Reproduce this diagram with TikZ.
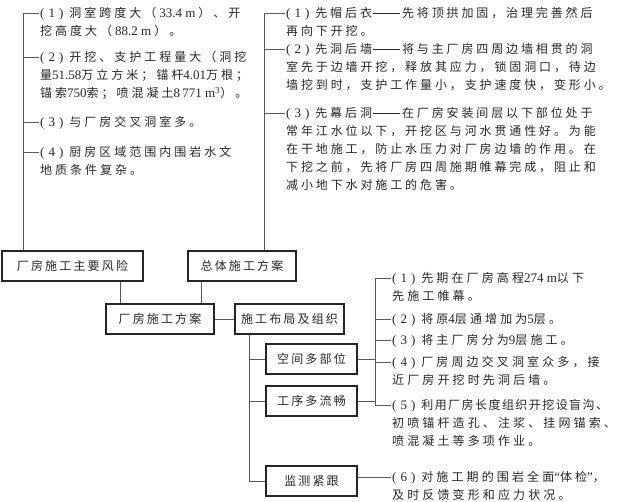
\documentclass[tikz,border=0pt]{standalone}
\usepackage{fontspec}
\newfontfamily\cjk[LetterSpace=18]{Noto Sans CJK SC}
\newfontfamily\cjkt[LetterSpace=12]{Noto Sans CJK SC}
\newfontfamily\cjkl[LetterSpace=25]{Noto Sans CJK SC}
\newfontfamily\cjkb[LetterSpace=26]{Noto Sans CJK SC}
\newfontfamily\cjkr[LetterSpace=24]{Noto Sans CJK SC}
\newfontfamily\tmfont{Liberation Serif}
\newcommand\tm[1]{{\tmfont\fontsize{13}{18}\selectfont #1}}
\newcommand\itemno[1]{\tm{(\hspace{4pt}#1\hspace{4pt})}\hspace{6pt}}
\newcommand\lines[1]{\begin{tabular}[t]{@{}l@{}}#1\end{tabular}}
\newcommand\dash{\hspace{1pt}\rule[4pt]{27pt}{0.6pt}\hspace{2pt}}
\tikzset{
  box/.style={draw=black!85, line width=1.4pt, minimum height=30pt, inner sep=0pt,
    font=\cjk\fontsize{12}{14}\selectfont, text=black!85},
  txt/.style={inner sep=0pt, anchor=base west, text=black!85},
  txtl/.style={txt, font=\cjkl\fontsize{12}{18}\selectfont},
  txtb/.style={txt, font=\cjkb\fontsize{12}{18}\selectfont},
  txtr/.style={txt, font=\cjkr\fontsize{12}{18}\selectfont},
  ln/.style={draw=black!65, line width=0.8pt},
}
\begin{document}
\begin{tikzpicture}[x=1pt,y=-1pt]
\useasboundingbox (0,0) rectangle (617,501);
% boxes
\node[box, minimum width=141pt] (B1) at (72.5,266) {厂房施工主要风险};
\node[box, minimum width=108pt] (B2) at (242,266) {总体施工方案};
\node[box, minimum width=108pt] (B3) at (160,319) {厂房施工方案};
\node[box, minimum width=109pt] (B4) at (289.5,319) {施工布局及组织};
\node[box, minimum width=91pt] (B5) at (311.5,359) {空间多部位};
\node[box, minimum width=91pt] (B6) at (311.5,401) {工序多流畅};
\node[box, minimum width=91pt] (B7) at (311.5,481) {监测紧跟};
% left texts
\node[txtl] (L1) at (40,17.6) {\lines{\itemno{1}洞室跨度大（\hspace{3pt}\tm{33.4 m}\hspace{3pt}）、开\\挖高度大（\hspace{3pt}\tm{88.2 m}\hspace{3pt}）。}};
\node[txtl] (L2) at (40,61.6) {\lines{\itemno{2}开挖、支护工程量大（洞挖\\量\tm{51.58}万立方米；锚杆\tm{4.01}万根；\\锚索\tm{750}索；喷混凝土\tm{8\,771 m\textsuperscript{3}}）。}};
\node[txtl] (L3) at (40,126.6) {\lines{\itemno{3}与厂房交叉洞室多。}};
\node[txtl] (L4) at (40,156.6) {\lines{\itemno{4}厨房区域范围内围岩水文\\地质条件复杂。}};
% right-top texts
\node[txtr] (R1) at (286,17.6) {\lines{\itemno{1}先帽后衣\dash 先将顶拱加固，治理完善然后\\再向下开挖。}};
\node[txtr] (R2) at (286,53.6) {\lines{\itemno{2}先洞后墙\dash 将与主厂房四周边墙相贯的洞\\室先于边墙开挖，释放其应力，锁固洞口，待边\\墙挖到时，支护工作量小，支护速度快，变形小。}};
\node[txtr] (R3) at (286,117.6) {\lines{\itemno{3}先幕后洞\dash 在厂房安装间层以下部位处于\\常年江水位以下，开挖区与河水贯通性好。为能\\在干地施工，防止水压力对厂房边墙的作用。在\\下挖之前，先将厂房四周施期帷幕完成，阻止和\\减小地下水对施工的危害。}};
% bottom-right texts
\node[txtb] (S1) at (392,282.6) {\lines{\itemno{1}先期在厂房高程\tm{274 m}以下\\先施工帷幕。}};
\node[txtb] (S2) at (392,323.6) {\lines{\itemno{2}将原\tm{4}层通增加为\tm{5}层。}};
\node[txtb] (S3) at (392,344.6) {\lines{\itemno{3}将主厂房分为\tm{9}层施工。}};
\node[txtb] (S4) at (392,366.6) {\lines{\itemno{4}厂房周边交叉洞室众多，接\\近厂房开挖时先洞后墙。}};
\node[txtb] (S5) at (392,409.6) {\lines{\itemno{5}{\cjkt 利用厂房长度组织开挖设盲沟、}\\初喷锚杆造孔、注浆、挂网锚索、\\喷混凝土等多项作业。}};
\node[txtb] (S6) at (392,481.6) {\lines{\itemno{6}对施工期的围岩全面\tm{“}体检\tm{”}，\\及时反馈变形和应力状况。}};
% tick coordinates
\foreach \n in {L1,L2,L3,L4,R1,R2,R3,S1,S2,S3,S4,S5,S6}{
  \coordinate (t\n) at ([yshift=4.6pt,xshift=-1pt]\n.base west);
}
\coordinate (lt) at (23,0);
\coordinate (rt) at (264,0);
\coordinate (st) at (375,0);
\coordinate (mt) at (249,0);
% left trunk
\draw[ln] (B1.north -| lt) -- (lt |- tL1) -- (tL1);
\foreach \n in {L2,L3,L4}{ \draw[ln] (lt |- t\n) -- (t\n); }
% right-top trunk
\draw[ln] (B2.north -| rt) -- (rt |- tR1) -- (tR1);
\foreach \n in {R2,R3}{ \draw[ln] (rt |- t\n) -- (t\n); }
% bottom bracket
\draw[ln] (tS1) -- (st |- tS1) -- (st |- tS5) -- (tS5);
\foreach \n in {S2,S3,S4}{ \draw[ln] (st |- t\n) -- (t\n); }
\draw[ln] (B5.east) -- (st |- B5.east);
\draw[ln] (B6.east) -- (st |- B6.east);
\draw[ln] (B7.east |- tS6) -- (tS6);
% main links
\draw[ln] (B1.south -| 120,0) -- (B3.north -| 120,0);
\draw[ln] (B2.south -| 201,0) -- (B3.north -| 201,0);
\draw[ln] (B3.east) -- (B4.west);
\draw[ln] (B4.south -| mt) -- (mt |- B7.west) -- (B7.west);
\draw[ln] (mt |- B5.west) -- (B5.west);
\draw[ln] (mt |- B6.west) -- (B6.west);
\end{tikzpicture}
\end{document}
